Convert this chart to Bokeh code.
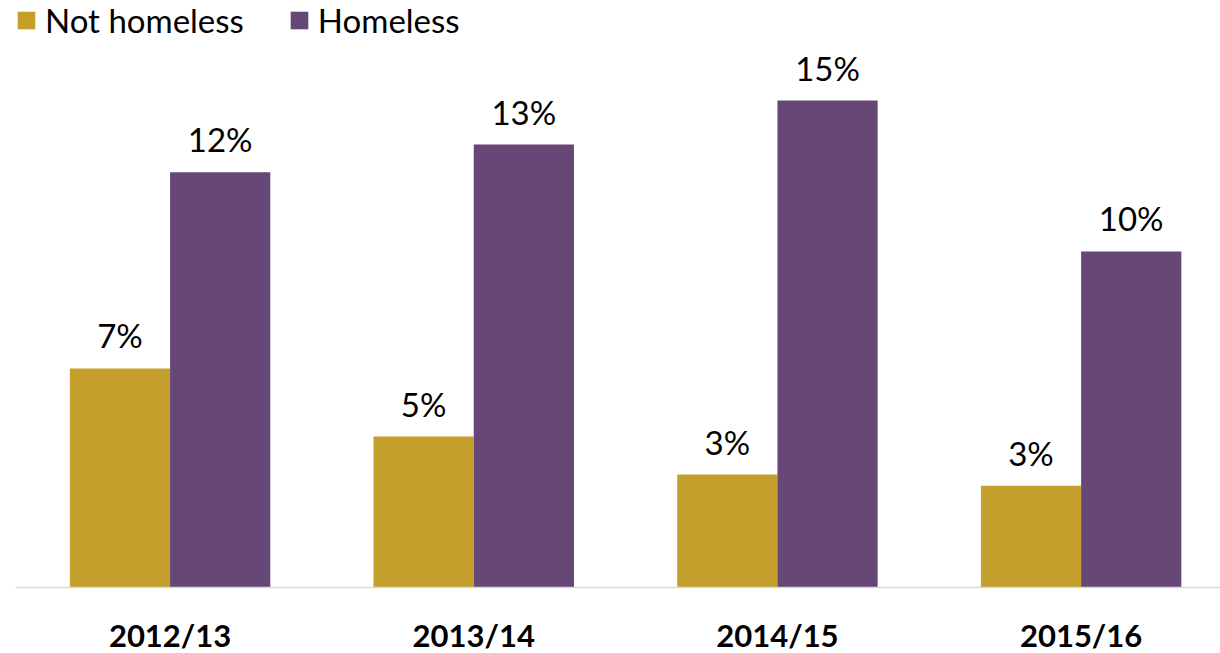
from bokeh.plotting import figure
from bokeh.models import ColumnDataSource, LabelSet, Span, Range1d, Legend, LegendItem
from bokeh.core.properties import value
from bokeh.embed import file_html
from bokeh.resources import INLINE

years = ["2012/13", "2013/14", "2014/15", "2015/16"]
not_homeless = [6.56, 4.52, 3.38, 3.05]
homeless = [12.43, 13.26, 14.58, 10.06]
not_homeless_labels = ["7%", "5%", "3%", "3%"]
homeless_labels = ["12%", "13%", "15%", "10%"]

GOLD = "#C59F2C"
PURPLE = "#664775"
FONT = "Lato"
bw = 0.33
xs = list(range(len(years)))

src_n = ColumnDataSource(dict(x=[i - bw / 2 for i in xs], y=not_homeless, lab=not_homeless_labels))
src_h = ColumnDataSource(dict(x=[i + bw / 2 for i in xs], y=homeless, lab=homeless_labels))
src_c = ColumnDataSource(dict(x=xs, y=[0] * len(xs), lab=years))

p = figure(width=1220, height=653, output_backend="svg", toolbar_location=None,
           x_range=Range1d(-0.509, 3.459), y_range=Range1d(-1.976, 17.575),
           min_border_left=15, min_border_right=0, min_border_top=0, min_border_bottom=0)
p.xaxis.visible = False
p.yaxis.visible = False
p.grid.visible = False
p.outline_line_color = None

rn = p.vbar(x="x", top="y", bottom=0, width=bw, source=src_n, color=GOLD, line_color=None)
rh = p.vbar(x="x", top="y", bottom=0, width=bw, source=src_h, color=PURPLE, line_color=None)

p.add_layout(Span(location=0, dimension="width", line_color="#D9D9D9", line_width=1.5))

for s in (src_n, src_h):
    p.add_layout(LabelSet(x="x", y="y", text="lab", source=s, y_offset=13,
                          text_align="center", text_baseline="bottom",
                          text_font=value(FONT), text_font_size="33px", text_color="#000000"))

p.add_layout(LabelSet(x="x", y="y", text="lab", source=src_c, y_offset=-47,
                      text_align="center", text_baseline="middle",
                      text_font=value(FONT), text_font_size="31px", text_font_style="bold",
                      text_color="#000000"))

legend = Legend(items=[LegendItem(label="Not homeless", renderers=[rn]),
                       LegendItem(label="Homeless", renderers=[rh])],
                location="top_left", orientation="horizontal",
                border_line_color=None, background_fill_alpha=0,
                padding=0, margin=0, spacing=44, label_standoff=8,
                glyph_width=22, glyph_height=22,
                label_text_font=FONT, label_text_font_size="33px", label_text_color="#000000")
p.add_layout(legend)

open("out.html", "w").write(file_html(p, INLINE))
